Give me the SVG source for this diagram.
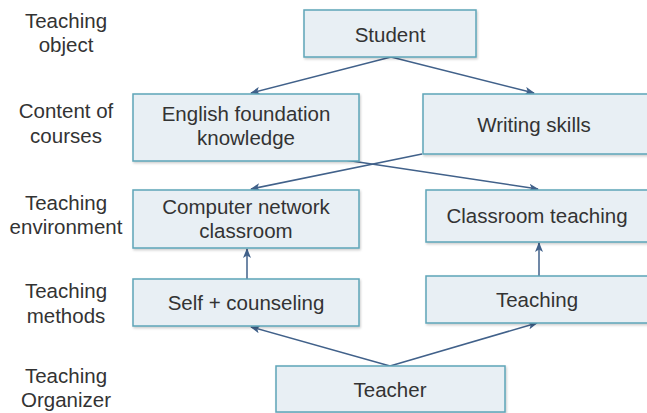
<svg xmlns="http://www.w3.org/2000/svg" width="647" height="413" viewBox="0 0 647 413">
<defs>
<marker id="ah" markerWidth="10" markerHeight="8" refX="9" refY="4" orient="auto" markerUnits="userSpaceOnUse">
<path d="M0,0 L10,4 L0,8 L2.5,4 Z" fill="#41618a"/>
</marker>
<filter id="sh" x="-5%" y="-5%" width="110%" height="120%">
<feDropShadow dx="1" dy="1.5" stdDeviation="0.8" flood-color="#000" flood-opacity="0.2"/>
</filter>
</defs>
<style>
.box{fill:#e8eff4;stroke:#5ea5b8;stroke-width:1.5;filter:url(#sh)}
.t{font-family:"Liberation Sans",Arial,sans-serif;font-size:20.5px;fill:#333;text-anchor:middle}
.c{stroke:#41618a;stroke-width:1.5;fill:none;marker-end:url(#ah)}
</style>
<rect width="647" height="413" fill="#fff"/>
<g id="labels">
<text class="t" x="66" y="28">Teaching</text>
<text class="t" x="66" y="52">object</text>
<text class="t" x="66" y="118">Content of</text>
<text class="t" x="66" y="143">courses</text>
<text class="t" x="66" y="210">Teaching</text>
<text class="t" x="66" y="234">environment</text>
<text class="t" x="66" y="298">Teaching</text>
<text class="t" x="66" y="323">methods</text>
<text class="t" x="66" y="383">Teaching</text>
<text class="t" x="66" y="407">Organizer</text>
</g>
<g id="connectors">
<path class="c" d="M391,57 L251,93"/>
<path class="c" d="M391,57 L534,93"/>
<path class="c" d="M422,154 L251,189"/>
<path class="c" d="M345,160 L538,189"/>
<path class="c" d="M247,279 L247,249"/>
<path class="c" d="M539,276 L539,243"/>
<path class="c" d="M390,366 L251,327"/>
<path class="c" d="M390,366 L537,323"/>
</g>
<g id="student"><rect class="box" x="304" y="10" width="172" height="47"/><text class="t" x="390" y="42">Student</text></g>
<g id="english"><rect class="box" x="133" y="94" width="226" height="67"/><text class="t" x="246" y="121">English foundation</text><text class="t" x="246" y="145">knowledge</text></g>
<g id="writing"><rect class="box" x="423" y="94" width="230" height="60"/><text class="t" x="534" y="132">Writing skills</text></g>
<g id="computer"><rect class="box" x="133" y="190" width="226" height="58"/><text class="t" x="246" y="214">Computer network</text><text class="t" x="246" y="238">classroom</text></g>
<g id="classroom"><rect class="box" x="426" y="190" width="227" height="52"/><text class="t" x="537" y="223">Classroom teaching</text></g>
<g id="self"><rect class="box" x="133" y="279" width="226" height="47"/><text class="t" x="246" y="310">Self + counseling</text></g>
<g id="teaching"><rect class="box" x="426" y="276" width="227" height="47"/><text class="t" x="537" y="307">Teaching</text></g>
<g id="teacher"><rect class="box" x="276" y="366" width="229" height="46"/><text class="t" x="390" y="397">Teacher</text></g>
</svg>
